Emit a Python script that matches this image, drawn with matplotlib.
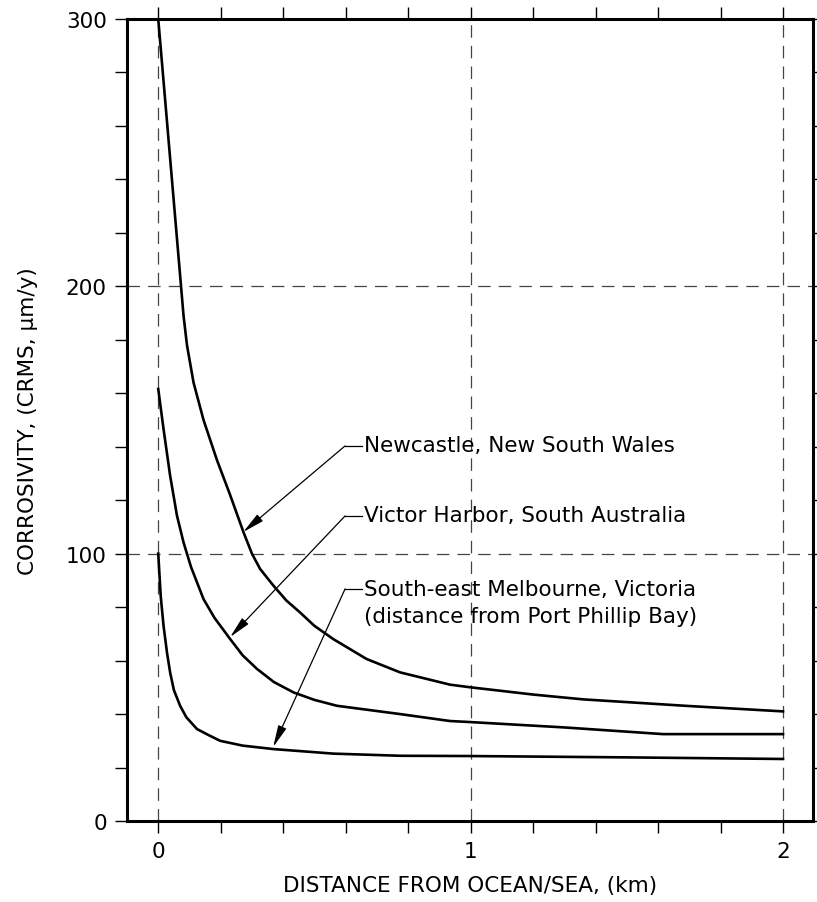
import matplotlib
matplotlib.use("Agg")
import matplotlib.pyplot as plt
from matplotlib.ticker import MultipleLocator

# Data
newcastle_d = [0.0, 0.081, 0.092, 0.113, 0.145, 0.188, 0.230, 0.273,
               0.30, 0.326, 0.369, 0.41, 0.454, 0.5, 0.561, 0.667, 0.774, 0.934, 1.0, 1.2, 1.36, 1.7, 2.0]
newcastle_v = [300, 189, 178, 164, 150, 135, 122, 108,
               100, 94.3, 88, 82.5, 78, 73, 68, 60.6, 55.6, 51, 50, 47.3, 45.5, 43, 41]

victor_d = [0.0, 0.017, 0.038, 0.06, 0.081, 0.105, 0.145, 0.18, 0.23, 0.27, 0.316, 0.37, 0.433, 0.5, 0.572,
            0.774, 0.934, 1.0, 1.3, 1.616, 2.0]
victor_v = [161.6, 146.6, 129.2, 114.2, 104.2, 95, 83, 76, 68.1, 62, 56.9, 52, 48.1, 45.3, 43.1,
            40, 37.4, 37, 35, 32.5, 32.5]

melb_d = [0.0, 0.008, 0.017, 0.028, 0.038, 0.05, 0.07, 0.09, 0.124, 0.16, 0.198, 0.27, 0.369, 0.561, 0.774, 1.0, 1.5, 2.0]
melb_v = [100, 84, 73, 63, 55.6, 49, 43.1, 38.8, 34.4, 32.2, 30, 28.2, 26.9, 25.2, 24.4, 24.3, 23.8, 23.2]

labels = ["Newcastle, New South Wales",
          "Victor Harbor, South Australia",
          "South-east Melbourne, Victoria\n(distance from Port Phillip Bay)"]

x_label = "DISTANCE FROM OCEAN/SEA, (km)"
y_label = "CORROSIVITY, (CRMS, \u03bcm/y)"

plt.rcParams['font.family'] = ['DejaVu Sans']
FS = 15.5

fig = plt.figure(figsize=(8.17, 9.03), dpi=100)
ax = fig.add_axes([127/817, 1-822/903, (813-127)/817, (822-20)/903])

ax.set_xlim(-0.1, 2.096)
ax.set_ylim(0, 300)

# grid
for gx in [0, 1, 2]:
    ax.axvline(gx, color='#444444', lw=0.9, ls=(0, (10, 6.5)), zorder=1)
for gy in [100, 200]:
    ax.axhline(gy, color='#444444', lw=0.9, ls=(0, (10, 6.5)), zorder=1)

lw = 1.9
for d, v in [(newcastle_d, newcastle_v), (victor_d, victor_v), (melb_d, melb_v)]:
    ax.plot(d, v, color='black', lw=lw, zorder=3, solid_joinstyle='round')

# annotations: (text, knee of leader, arrow tip, text y)
ann = [
    (labels[0], (0.598, 140.3), (0.272, 108.1), 140.8),
    (labels[1], (0.598, 114.1), (0.230, 68.8), 114.6),
    (labels[2], (0.598, 86.8), (0.368, 27.7), 81.7),
]
for text, knee, tip, ty in ann:
    ax.plot([knee[0], knee[0] + 0.054], [knee[1], knee[1]], color='black', lw=0.9, zorder=4)
    ax.annotate('', xy=tip, xytext=knee,
                arrowprops=dict(arrowstyle='-|>,head_length=1.1,head_width=0.22',
                                color='black', lw=0.9, shrinkA=0, shrinkB=0,
                                mutation_scale=12), zorder=4)
    ax.text(knee[0] + 0.06, ty, text, fontsize=FS, va='center', ha='left',
            linespacing=1.4, zorder=4)

# ticks
ax.xaxis.set_major_locator(MultipleLocator(1))
ax.xaxis.set_minor_locator(MultipleLocator(0.2))
ax.yaxis.set_major_locator(MultipleLocator(100))
ax.yaxis.set_minor_locator(MultipleLocator(20))
ax.tick_params(which='both', direction='out', length=8.5, width=1.0,
               top=True, right=True, labeltop=False, labelright=False)
ax.tick_params(which='major', labelsize=FS, pad=6)
for sp in ax.spines.values():
    sp.set_linewidth(2.2)

ax.set_xlabel(x_label, fontsize=FS, labelpad=10)
ax.set_ylabel(y_label, fontsize=FS, labelpad=20)

fig.savefig("out.png", dpi=100)
